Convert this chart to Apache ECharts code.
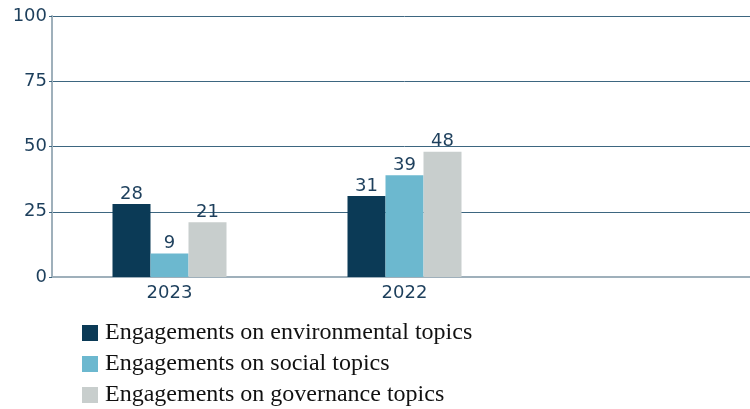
<!DOCTYPE html>
<html><head><meta charset="utf-8">
<script src="https://cdn.jsdelivr.net/npm/echarts@6/dist/echarts.min.js"></script>
<style>html,body{margin:0;padding:0;background:#fff;overflow:hidden}#c{width:762px;height:409px}</style>
</head><body><div id="c"></div>
<script>
const categories = ['2023', '2022', ''];
const environmental = [28, 31, null];
const social = [9, 39, null];
const governance = [21, 48, null];
const seriesNames = ['Engagements on environmental topics', 'Engagements on social topics', 'Engagements on governance topics'];
const yTicks = { min: 0, max: 100, interval: 25 };

const txt = '#1d3f5c';
const colors = ['#0b3a56', '#6cb8cf', '#c8cecd'];
const chart = echarts.init(document.getElementById('c'), null, { renderer: 'canvas' });
const mk = (name, data, i) => ({
  name, type: 'bar', data, barWidth: 38, barGap: '0%',
  itemStyle: { color: colors[i] },
  label: { show: true, position: 'top', distance: 1, color: txt, fontFamily: 'DejaVu Sans', fontSize: 18 }
});
chart.setOption({
  animation: false,
  grid: { left: 52, top: 16, width: 705, height: 261, containLabel: false },
  xAxis: {
    type: 'category', data: categories, boundaryGap: true,
    axisLine: { lineStyle: { color: '#9fb0bb', width: 2 } },
    axisTick: { alignWithLabel: true, length: 4, lineStyle: { color: '#9fb0bb' } },
    axisLabel: { color: txt, fontFamily: 'DejaVu Sans', fontSize: 18, margin: 7 }
  },
  yAxis: {
    type: 'value', min: yTicks.min, max: yTicks.max, interval: yTicks.interval,
    axisLine: { show: true, lineStyle: { color: '#9fb0bb', width: 2 } },
    axisTick: { show: true, length: 3, lineStyle: { color: '#3d6680' } },
    axisLabel: { color: txt, fontFamily: 'DejaVu Sans', fontSize: 18, margin: 5 },
    splitLine: { lineStyle: { color: '#3d6680', width: 1 } }
  },
  legend: {
    orient: 'vertical', left: 82, top: 321, padding: 0, itemWidth: 16, itemHeight: 16, itemGap: 7,
    icon: 'rect',
    textStyle: { color: '#111', fontFamily: 'Liberation Serif', fontSize: 24, lineHeight: 24, padding: [0, 0, 0, 2] },
    data: seriesNames
  },
  series: [mk(seriesNames[0], environmental, 0), mk(seriesNames[1], social, 1), mk(seriesNames[2], governance, 2)]
});
</script></body></html>
